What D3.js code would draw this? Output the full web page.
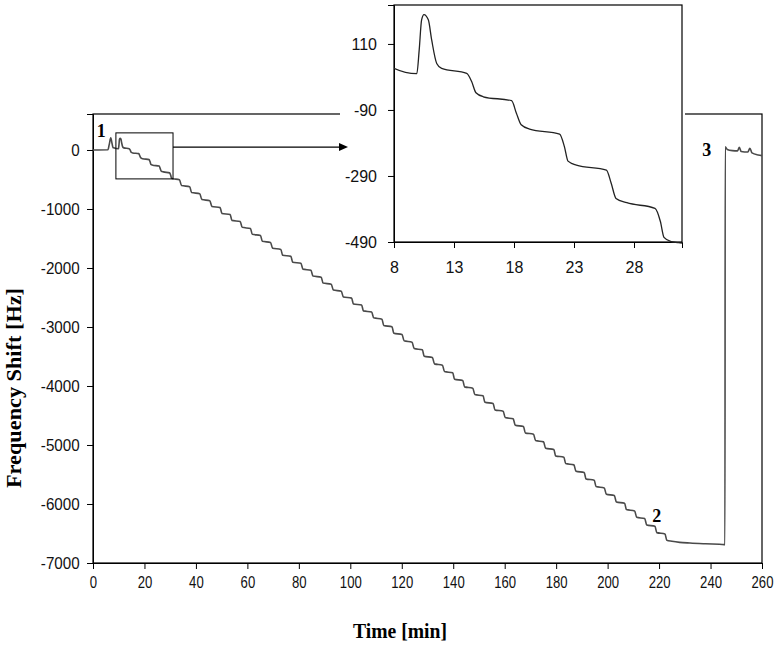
<!DOCTYPE html>
<html>
<head>
<meta charset="utf-8">
<script src="https://cdn.jsdelivr.net/npm/d3@7"></script>
<style>
  body { margin: 0; background: #fff; }
  .tick text { font-family: "Liberation Sans", Arial, sans-serif; fill: #111; }
  .domain, .tick line { stroke: #000; }
</style>
</head>
<body>
<svg id="chart" width="779" height="645"></svg>
<script>
// injection peaks + start of the ramp, [time min, shift Hz]
var startTrace = [
  [0, 0], [5.8, 3], [6.3, 90], [6.9, 205], [7.4, 110], [7.8, 40], [8.0, 36],
  [9.9, 20], [10.1, 92], [10.3, 183], [10.5, 199], [10.86, 183], [11.14, 122],
  [11.56, 51], [11.97, 36], [14.06, 21], [14.47, -4], [14.83, -38], [15.44, -50],
  [17.8, -62], [18.2, -100], [18.6, -135], [19.3, -148], [21.8, -163], [22.2, -201],
  [22.5, -245], [23.2, -257], [25.7, -272], [26.1, -312], [26.5, -358], [27.4, -371],
  [29.75, -388], [30.2, -428], [30.5, -476], [31.1, -489], [31.7, -492]
];

// staircase: [step start, shift before, step end, shift after]
var rampSteps = [
  [33.6, -505, 34.4, -603], [37.6, -623, 38.3, -721], [41.5, -741, 42.3, -839],
  [45.4, -859, 46.2, -957], [49.4, -977, 50.1, -1075], [53.3, -1095, 54.0, -1193],
  [57.2, -1213, 58.0, -1311], [61.2, -1331, 61.9, -1429], [65.1, -1449, 65.8, -1547],
  [69.0, -1567, 69.8, -1665], [73.0, -1685, 73.7, -1783], [76.9, -1803, 77.6, -1901],
  [80.8, -1921, 81.6, -2019], [84.7, -2039, 85.5, -2137], [88.7, -2157, 89.4, -2255],
  [92.6, -2275, 93.4, -2373], [96.5, -2393, 97.3, -2491], [100.5, -2511, 101.2, -2609],
  [104.4, -2629, 105.1, -2727], [108.3, -2747, 109.1, -2845], [112.3, -2867, 113.0, -2975],
  [116.2, -2997, 116.9, -3105], [120.1, -3127, 120.9, -3235], [124.0, -3257, 124.8, -3365],
  [128.0, -3387, 128.7, -3495], [131.9, -3517, 132.7, -3625], [135.8, -3647, 136.6, -3755],
  [139.8, -3777, 140.5, -3885], [143.7, -3907, 144.4, -4015], [147.6, -4037, 148.4, -4145],
  [151.6, -4167, 152.3, -4275], [155.5, -4297, 156.2, -4405], [159.4, -4427, 160.2, -4535],
  [163.3, -4557, 164.1, -4665], [167.3, -4687, 168.0, -4795], [171.2, -4817, 172.0, -4925],
  [175.1, -4947, 175.9, -5055], [179.1, -5077, 179.8, -5185], [183.0, -5207, 183.7, -5315],
  [186.9, -5337, 187.7, -5445], [190.9, -5467, 191.6, -5575], [194.8, -5597, 195.5, -5705],
  [198.7, -5727, 199.5, -5835], [202.6, -5857, 203.4, -5965], [206.6, -5987, 207.3, -6095],
  [210.5, -6117, 211.3, -6225], [214.4, -6247, 215.2, -6355], [218.4, -6377, 219.1, -6485],
  [222.3, -6507, 223.0, -6615]
];

// saturation plateau, rinse jump and end of run
var endTrace = [
  [225, -6632], [228, -6650], [232, -6662], [238, -6675], [245.4, -6688],
  [245.6, -6690], [245.7, 55], [246.5, 10], [248.5, -10], [250.5, -15],
  [251.2, 45], [251.9, -25], [254.5, -35], [255.3, 30], [256.1, -50], [258.5, -85], [260, -95]
];

var xTicks = [0, 20, 40, 60, 80, 100, 120, 140, 160, 180, 200, 220, 240, 260];
var yTicks = [-7000, -6000, -5000, -4000, -3000, -2000, -1000, 0];
var insetXTicks = [8, 13, 18, 23, 28];
var insetYTicks = [-490, -290, -90, 110];
var insetTime = [8, 32];
var insetShift = [-490, 228];
var zoomTime = [8.9, 31.1];      // box drawn on main plot
var zoomShift = [290, -490];
var marks = [
  {label: '1', t: 1.5, f: 220},
  {label: '2', t: 217.3, f: -6300},
  {label: '3', t: 236.8, f: -110}
];

var trace = startTrace.slice();
rampSteps.forEach(d => { trace.push([d[0], d[1]]); trace.push([d[2], d[3]]); });
endTrace.forEach(d => trace.push(d));

var svg = d3.select('#chart');
svg.append('rect').attr('width', 779).attr('height', 645).attr('fill', '#fff');

// Main plot
var x = d3.scaleLinear().domain([0, 260]).range([93, 762]);
var y = d3.scaleLinear().domain([-7000, 610]).range([563, 114]);

svg.append('rect')
  .attr('x', x(0)).attr('y', y(610))
  .attr('width', x(260) - x(0)).attr('height', y(-7000) - y(610))
  .attr('fill', 'none').attr('stroke', '#000').attr('stroke-width', 1.2);

var yAxis = svg.append('g')
  .attr('transform', 'translate(' + x(0) + ',0)')
  .call(d3.axisLeft(y).tickValues(yTicks).tickSize(6).tickPadding(8)
    .tickFormat(d => String(d)));
yAxis.selectAll('text').style('font-size', '16px').attr('transform', 'scale(0.95,1)');

var xAxis = svg.append('g')
  .attr('transform', 'translate(0,' + y(-7000) + ')')
  .call(d3.axisBottom(x).tickValues(xTicks).tickSize(6).tickPadding(8)
    .tickFormat(d => String(d)));
xAxis.selectAll('text').style('font-size', '16px').attr('transform', 'scale(0.82,1)');

var line = d3.line()
  .x(d => x(d[0]))
  .y(d => y(d[1]))
  .curve(d3.curveMonotoneX);

svg.append('path')
  .datum(trace)
  .attr('d', line)
  .attr('fill', 'none')
  .attr('stroke', '#4a4a4a')
  .attr('stroke-width', 1.6);

// zoom window + arrow
svg.append('rect')
  .attr('x', x(zoomTime[0])).attr('y', y(zoomShift[0]))
  .attr('width', x(zoomTime[1]) - x(zoomTime[0]))
  .attr('height', y(zoomShift[1]) - y(zoomShift[0]))
  .attr('fill', 'none').attr('stroke', '#000').attr('stroke-width', 1);

// Inset
var xi = d3.scaleLinear().domain(insetTime).range([394, 682]);
var yi = d3.scaleLinear().domain(insetShift).range([242, 5]);

svg.append('rect')
  .attr('x', 340).attr('y', 0).attr('width', 345).attr('height', 290)
  .attr('fill', '#fff');

var arrowY = y(50);
svg.append('line')
  .attr('x1', x(zoomTime[1])).attr('x2', 340)
  .attr('y1', arrowY).attr('y2', arrowY)
  .attr('stroke', '#000').attr('stroke-width', 1.2);
svg.append('path')
  .attr('d', 'M339,' + (arrowY - 4) + 'L348,' + arrowY + 'L339,' + (arrowY + 4) + 'Z')
  .attr('fill', '#000');

svg.append('clipPath').attr('id', 'inset-clip')
  .append('rect')
  .attr('x', xi(insetTime[0])).attr('y', yi(insetShift[1]))
  .attr('width', xi(insetTime[1]) - xi(insetTime[0]))
  .attr('height', yi(insetShift[0]) - yi(insetShift[1]) + 2);

svg.append('rect')
  .attr('x', xi(insetTime[0])).attr('y', yi(insetShift[1]))
  .attr('width', xi(insetTime[1]) - xi(insetTime[0]))
  .attr('height', yi(insetShift[0]) - yi(insetShift[1]))
  .attr('fill', 'none').attr('stroke', '#000').attr('stroke-width', 1.2);

var iyAxis = svg.append('g')
  .attr('transform', 'translate(' + xi(insetTime[0]) + ',0)')
  .call(d3.axisLeft(yi).tickValues(insetYTicks).tickSize(6).tickPadding(11)
    .tickFormat(d => String(d)));
iyAxis.selectAll('text').style('font-size', '16px');

var ixAxis = svg.append('g')
  .attr('transform', 'translate(0,' + yi(insetShift[0]) + ')')
  .call(d3.axisBottom(xi).tickValues(insetXTicks)
    .tickSize(6).tickPadding(14).tickFormat(d => String(d)));
ixAxis.selectAll('text').style('font-size', '16px');

var iline = d3.line()
  .x(d => xi(d[0]))
  .y(d => yi(d[1]))
  .curve(d3.curveMonotoneX);

svg.append('path')
  .datum(trace.filter(d => d[0] >= 7.5 && d[0] <= 34.5))
  .attr('d', iline)
  .attr('clip-path', 'url(#inset-clip)')
  .attr('fill', 'none')
  .attr('stroke', '#222')
  .attr('stroke-width', 1.3);

// point labels
svg.selectAll('.mark')
  .data(marks)
  .enter()
  .append('text')
  .attr('class', 'mark')
  .attr('x', d => x(d.t))
  .attr('y', d => y(d.f))
  .text(d => d.label)
  .style('font-family', '"Liberation Serif", "Times New Roman", serif')
  .style('font-weight', 700)
  .style('font-size', '18px');

// axis titles
svg.append('text')
  .attr('x', 400).attr('y', 638)
  .attr('text-anchor', 'middle')
  .attr('textLength', 94)
  .attr('lengthAdjust', 'spacingAndGlyphs')
  .text('Time [min]')
  .style('font-family', '"Liberation Serif", "Times New Roman", serif')
  .style('font-weight', 700)
  .style('font-size', '20px');

svg.append('text')
  .attr('transform', 'translate(21,388) rotate(-90)')
  .attr('text-anchor', 'middle')
  .attr('textLength', 200)
  .attr('lengthAdjust', 'spacingAndGlyphs')
  .text('Frequency Shift [Hz]')
  .style('font-family', '"Liberation Serif", "Times New Roman", serif')
  .style('font-weight', 700)
  .style('font-size', '20px');
</script>
</body>
</html>
